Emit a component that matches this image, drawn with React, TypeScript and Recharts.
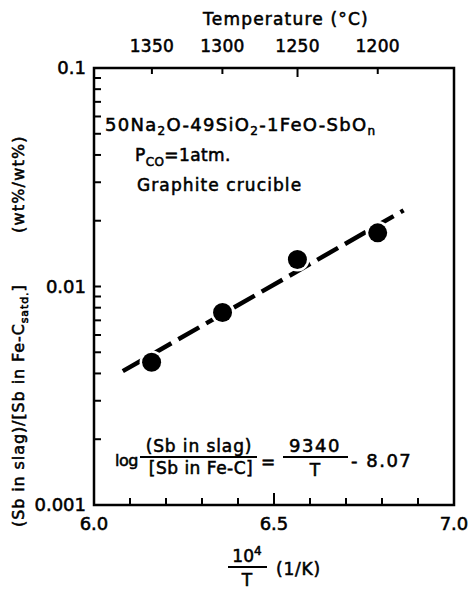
import React from 'react';
import { ComposedChart, XAxis, YAxis, Line, Scatter, ReferenceArea } from 'recharts';

// Measured points (10^4/T in 1/K, ratio in wt%/wt%)
const invT = [6.16, 6.357, 6.565, 6.788];
const ratio = [0.0045, 0.0076, 0.0133, 0.0176];
// Fitted regression line end points
const fitInvT = [6.08, 6.86];
const fitRatio = [0.0041, 0.0223];
// Bottom axis ticks
const xTicks = [6.0, 6.1, 6.2, 6.3, 6.4, 6.5, 6.6, 6.7, 6.8, 6.9, 7.0];
const xLabels: Record<string, string> = { '6': '6.0', '6.5': '6.5', '7': '7.0' };
// Top axis (temperature, deg C)
const tempC = [1350, 1300, 1250, 1200];
// Left axis (log)
const yTicks = [
  0.001, 0.002, 0.003, 0.004, 0.005, 0.006, 0.007, 0.008, 0.009,
  0.01, 0.02, 0.03, 0.04, 0.05, 0.06, 0.07, 0.08, 0.09, 0.1,
];
const yLabels: Record<string, string> = { '0.001': '0.001', '0.01': '0.01', '0.1': '0.1' };

const FONT = '"DejaVu Sans", sans-serif';
const TS = 0.55; // text stroke for heavier look

const points = invT.map((x, i) => ({ x, y: ratio[i] }));
const fitLine = fitInvT.map((x, i) => ({ x, y: fitRatio[i] }));
const topTicks = tempC.map((t) => 1e4 / (t + 273.15));

const BottomTick = (props: any) => {
  const { x, y, payload } = props;
  const v = payload.value;
  const key = String(Math.round(v * 10) / 10);
  const major = Math.abs(v - 6.5) < 1e-6;
  const label = xLabels[key];
  return (
    <g>
      <line x1={x} x2={x} y1={y} y2={y - (major ? 12 : 7)} stroke="#000" strokeWidth={2} />
      {label && (
        <text x={x} y={y + 25} textAnchor="middle" fontFamily={FONT} fontSize={18} fill="#000" stroke="#000" strokeWidth={TS}>
          {label}
        </text>
      )}
    </g>
  );
};

const TopTick = (props: any) => {
  const { x, y, index } = props;
  return (
    <g>
      <line x1={x} x2={x} y1={y} y2={y + (index === 2 ? 9 : 6)} stroke="#000" strokeWidth={2} />
      <text x={x} y={y - 16} textAnchor="middle" fontFamily={FONT} fontSize={17} letterSpacing={0.3} fill="#000" stroke="#000" strokeWidth={TS}>
        {tempC[index]}
      </text>
    </g>
  );
};

const LeftTick = (props: any) => {
  const { x, y, payload } = props;
  const v = payload.value;
  const key = String(v);
  const label = yLabels[key];
  return (
    <g>
      <line x1={x} x2={x + 7} y1={y} y2={y} stroke="#000" strokeWidth={2} />
      {label && (
        <text x={x - 8} y={y + 6} textAnchor="end" fontFamily={FONT} fontSize={18} fill="#000" stroke="#000" strokeWidth={TS}>
          {label}
        </text>
      )}
    </g>
  );
};

const Dot = (props: any) => {
  const { cx, cy } = props;
  return (
    <g>
      <circle cx={cx} cy={cy} r={12} fill="#fff" />
      <circle cx={cx} cy={cy} r={9.5} fill="#000" />
    </g>
  );
};

export default function App() {
  return (
    <div style={{ position: 'absolute', left: 0, top: 0, width: 470, height: 590, background: '#fff' }}>
      <ComposedChart
        width={470}
        height={590}
        margin={{ top: 38, right: 16, bottom: 45, left: 34 }}
      >
        <XAxis
          xAxisId={0}
          dataKey="x"
          type="number"
          domain={[6, 7]}
          ticks={xTicks}
          interval={0}
          height={40}
          axisLine={false}
          tickLine={false}
          tickSize={0}
          tickMargin={0}
          tick={<BottomTick />}
          allowDataOverflow
        />
        <XAxis
          xAxisId="top"
          dataKey="x"
          orientation="top"
          type="number"
          domain={[6, 7]}
          ticks={topTicks}
          interval={0}
          height={30}
          axisLine={false}
          tickLine={false}
          tickSize={0}
          tickMargin={0}
          tick={<TopTick />}
          allowDataOverflow
        />
        <YAxis
          yAxisId={0}
          type="number"
          scale="log"
          domain={[0.001, 0.1]}
          ticks={yTicks}
          interval={0}
          width={60}
          axisLine={false}
          tickLine={false}
          tickSize={0}
          tickMargin={0}
          tick={<LeftTick />}
          allowDataOverflow
        />
        <ReferenceArea
          xAxisId={0}
          yAxisId={0}
          x1={6}
          x2={7}
          y1={0.001}
          y2={0.1}
          fill="none"
          fillOpacity={0}
          stroke="#000"
          strokeWidth={2.5}
          ifOverflow="visible"
        />
        <Line
          xAxisId="top"
          yAxisId={0}
          data={fitLine}
          dataKey="y"
          type="linear"
          stroke="none"
          strokeOpacity={0}
          dot={false}
          activeDot={false}
          isAnimationActive={false}
        />
        <Line
          xAxisId={0}
          yAxisId={0}
          data={fitLine}
          dataKey="y"
          type="linear"
          stroke="#000"
          strokeWidth={4.5}
          strokeDasharray="24 8"
          dot={false}
          activeDot={false}
          isAnimationActive={false}
        />
        <Scatter
          xAxisId={0}
          yAxisId={0}
          data={points}
          dataKey="y"
          shape={<Dot />}
          isAnimationActive={false}
        />
      </ComposedChart>
      <svg
        width={470}
        height={590}
        style={{ position: 'absolute', left: 0, top: 0, pointerEvents: 'none' }}
        fontFamily={FONT}
        fill="#000"
      >
        <g stroke="#000" strokeWidth={TS}>
          <text x={286} y={25} textAnchor="middle" fontSize={17} letterSpacing={1.2}>
            Temperature (°C)
          </text>
          <text x={105} y={131} fontSize={18} letterSpacing={1.3}>
            50Na<tspan fontSize={12} dy={4}>2</tspan>
            <tspan dy={-4}>O-49SiO</tspan>
            <tspan fontSize={12} dy={4}>2</tspan>
            <tspan dy={-4}>-1FeO-SbO</tspan>
            <tspan fontSize={12} dy={4}>n</tspan>
          </text>
          <text x={135} y={161} fontSize={17} letterSpacing={0.4}>
            P<tspan fontSize={12} dy={5}>CO</tspan>
            <tspan dy={-5}>=1atm.</tspan>
          </text>
          <text x={137} y={191} fontSize={17} letterSpacing={1.1}>
            Graphite crucible
          </text>
          {/* equation */}
          <text x={115} y={466} fontSize={16} letterSpacing={-0.5}>log</text>
          <text x={199} y={452} fontSize={17} textAnchor="middle" letterSpacing={0.9}>(Sb in slag)</text>
          <text x={201} y={474} fontSize={17} textAnchor="middle" letterSpacing={0.5}>[Sb in Fe-C]</text>
          <text x={268} y={468} fontSize={17} textAnchor="middle">=</text>
          <text x={315} y={452} fontSize={18} textAnchor="middle" letterSpacing={1.5}>9340</text>
          <text x={315} y={476} fontSize={17} textAnchor="middle">T</text>
          <text x={351} y={467} fontSize={18} letterSpacing={1.5}>- 8.07</text>
          {/* x axis title */}
          <text x={247} y={562} fontSize={17} textAnchor="middle">
            10<tspan fontSize={12} dy={-7}>4</tspan>
          </text>
          <text x={247} y={586} fontSize={17} textAnchor="middle">T</text>
          <text x={276} y={575} fontSize={17} letterSpacing={0.8}>(1/K)</text>
          {/* y axis title */}
          <text transform="rotate(-90 24 527)" x={24} y={527} fontSize={16} letterSpacing={0.9}>
            (Sb in slag)/[Sb in Fe-C<tspan fontSize={11} dy={4}>satd.</tspan>
            <tspan dy={-4}>]</tspan>
          </text>
          <text transform="rotate(-90 24 233)" x={24} y={233} fontSize={16} letterSpacing={1.2}>
            (wt%/wt%)
          </text>
        </g>
        <line x1={140} x2={257} y1={457} y2={457} stroke="#000" strokeWidth={2} />
        <line x1={283} x2={348} y1={457} y2={457} stroke="#000" strokeWidth={2} />
        <line x1={228} x2={267} y1={567} y2={567} stroke="#000" strokeWidth={2} />
      </svg>
    </div>
  );
}
